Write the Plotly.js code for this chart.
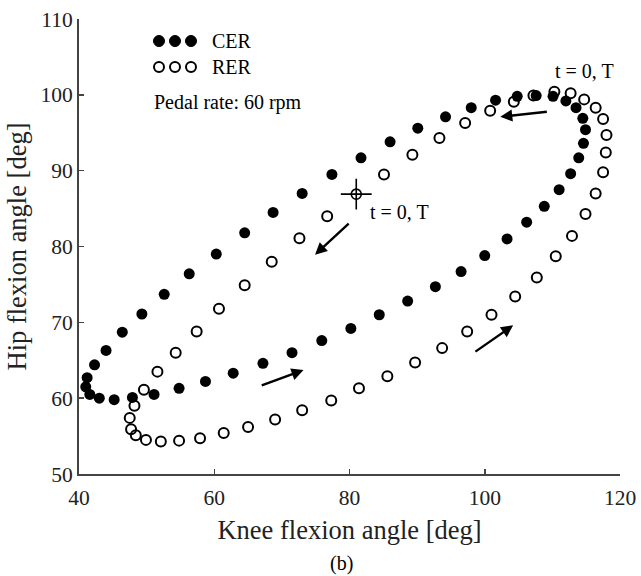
<!DOCTYPE html>
<html>
<head>
<meta charset="utf-8">
<script src="https://cdn.plot.ly/plotly-3.0.1.min.js"></script>
<style>html,body{margin:0;padding:0;background:#fff;}#chart{width:641px;height:576px;}</style>
</head>
<body>
<div id="chart"></div>
<script>
// CER (filled) knee / hip angles
var cerKnee = [107.6,104.8,101.6,98.0,94.2,90.1,86.0,81.7,77.4,73.0,68.7,64.5,60.3,56.3,52.6,49.3,46.4,44.0,42.3,41.2,41.0,41.6,43.0,45.2,47.9,51.1,54.8,58.7,62.8,67.2,71.5,75.9,80.2,84.4,88.6,92.7,96.5,100.0,103.3,106.2,108.8,111.0,112.7,113.9,114.6,114.9,114.5,113.5,112.0,110.1];
var cerHip  = [99.9,99.8,99.3,98.3,97.1,95.6,93.8,91.7,89.5,87.0,84.5,81.8,79.0,76.4,73.7,71.1,68.7,66.3,64.4,62.7,61.5,60.5,60.0,59.8,60.1,60.5,61.3,62.2,63.3,64.6,66.0,67.6,69.2,71.0,72.8,74.7,76.7,78.8,81.0,83.2,85.3,87.5,89.6,91.7,93.6,95.4,96.9,98.3,99.2,99.8];
// RER (open) knee / hip angles
var rerKnee = [110.3,107.2,104.3,100.8,97.1,93.3,89.3,85.1,76.7,72.6,68.5,64.5,60.7,57.4,54.3,51.6,49.6,48.2,47.5,47.7,48.4,49.9,52.1,54.8,57.9,61.4,65.0,69.0,73.0,77.3,81.4,85.6,89.7,93.7,97.4,101.0,104.5,107.7,110.5,112.9,114.9,116.4,117.5,117.9,118.0,117.5,116.4,114.7,112.7];
var rerHip  = [100.4,99.9,99.1,97.9,96.3,94.3,92.1,89.5,84.0,81.1,78.0,74.9,71.8,68.8,66.0,63.5,61.1,59.0,57.4,55.9,55.1,54.5,54.3,54.4,54.7,55.4,56.2,57.2,58.4,59.7,61.3,62.9,64.7,66.6,68.8,71.0,73.4,75.9,78.7,81.4,84.3,87.0,89.8,92.4,94.7,96.8,98.3,99.4,100.2];
// RER start point (t = 0, T)
var rerStartKnee = [81.0];
var rerStartHip  = [86.9];
// labels
var xTicks = [40,60,80,100,120];
var yTicks = [50,60,70,80,90,100,110];
var legendNames = ["CER","RER"];
var noteText = "Pedal rate: 60 rpm";
var startLabel = "t = 0, T";
var xTitle = "Knee flexion angle [deg]";
var yTitle = "Hip flexion angle [deg]";
var caption = "(b)";
// direction arrows: [tailX, tailY, headX, headY]
var arrows = [[109.4,97.8,102.3,97.1],[80.1,83.2,74.9,78.9],[66.8,61.6,73.2,63.7],[98.4,66.0,104.2,69.6]];
// label anchors
var startLabelPos = [[110.1,103.2],[82.7,84.5]];

var FONT = "Liberation Serif, Times New Roman, serif";
var traces = [
  {x: rerKnee, y: rerHip, mode: "markers", type: "scatter", name: legendNames[1],
   marker: {symbol: "circle-open", size: 10, color: "#000", line: {width: 2, color: "#000"}}},
  {x: cerKnee, y: cerHip, mode: "markers", type: "scatter", name: legendNames[0],
   marker: {symbol: "circle", size: 11, color: "#000"}},
  {x: rerStartKnee, y: rerStartHip, mode: "markers", type: "scatter",
   marker: {symbol: "circle-open", size: 10, color: "#000", line: {width: 1.6, color: "#000"}}},
  {x: rerStartKnee, y: rerStartHip, mode: "markers", type: "scatter",
   marker: {symbol: "cross-thin-open", size: 22, color: "#000", line: {width: 1.6, color: "#000"}}}
];

var L = 79, T = 19, W = 541, H = 455;
function px(x){ return (x - L) / W; }
function py(y){ return 1 - (y - T) / H; }

var annotations = [];
arrows.forEach(function(a){
  annotations.push({x: a[2], y: a[3], ax: a[0], ay: a[1], xref: "x", yref: "y", axref: "x", ayref: "y",
    text: "", showarrow: true, arrowhead: 2, arrowsize: 1, arrowwidth: 2.4, arrowcolor: "#000", standoff: 0, startstandoff: 0});
});
startLabelPos.forEach(function(p){
  annotations.push({x: p[0], y: p[1], xref: "x", yref: "y", text: startLabel, showarrow: false,
    xanchor: "left", yanchor: "middle", font: {family: FONT, size: 20, color: "#000"}});
});
annotations.push({x: px(210), y: py(41), xref: "paper", yref: "paper", text: legendNames[0], showarrow: false,
  xanchor: "left", yanchor: "middle", font: {family: FONT, size: 20, color: "#000"}});
annotations.push({x: px(210), y: py(67), xref: "paper", yref: "paper", text: legendNames[1], showarrow: false,
  xanchor: "left", yanchor: "middle", font: {family: FONT, size: 20, color: "#000"}});
annotations.push({x: px(152), y: py(102), xref: "paper", yref: "paper", text: noteText, showarrow: false,
  xanchor: "left", yanchor: "middle", font: {family: FONT, size: 20, color: "#000"}});
annotations.push({x: px(341), y: py(563), xref: "paper", yref: "paper", text: caption, showarrow: false,
  xanchor: "center", yanchor: "middle", font: {family: FONT, size: 20, color: "#000"}});

var shapes = [];
[159,175,191].forEach(function(cx){
  shapes.push({type: "circle", xref: "paper", yref: "paper", x0: px(cx-5.5), x1: px(cx+5.5), y0: py(46.5), y1: py(35.5),
    fillcolor: "#000", line: {color: "#000", width: 1}});
  shapes.push({type: "circle", xref: "paper", yref: "paper", x0: px(cx-5), x1: px(cx+5), y0: py(72), y1: py(62),
    fillcolor: "rgba(0,0,0,0)", line: {color: "#000", width: 2}});
});

var layout = {
  width: 641, height: 576,
  margin: {l: 79, r: 21, t: 19, b: 102},
  paper_bgcolor: "#fff", plot_bgcolor: "#fff",
  showlegend: false,
  font: {family: FONT, color: "#222"},
  xaxis: {range: [40, 120], tickvals: xTicks, ticktext: xTicks.map(String), ticks: "inside", ticklen: 5, tickwidth: 1.5, tickcolor: "#444",
    showline: true, linecolor: "#444", linewidth: 2, showgrid: false, zeroline: false, mirror: false,
    ticklabelstandoff: 3,
    tickfont: {family: FONT, size: 21.5, color: "#222"},
    title: {text: xTitle, font: {family: FONT, size: 26.5, color: "#222"}, standoff: 12}},
  yaxis: {range: [50, 110], tickvals: yTicks, ticktext: yTicks.map(String), ticks: "inside", ticklen: 5, tickwidth: 1.5, tickcolor: "#444",
    showline: true, linecolor: "#444", linewidth: 2, showgrid: false, zeroline: false, mirror: false,
    tickfont: {family: FONT, size: 21.5, color: "#222"},
    title: {text: yTitle, font: {family: FONT, size: 26.5, color: "#222"}, standoff: 6}},
  annotations: annotations,
  shapes: shapes
};
Plotly.newPlot("chart", traces, layout, {displayModeBar: false, staticPlot: true});
</script>
</body>
</html>
